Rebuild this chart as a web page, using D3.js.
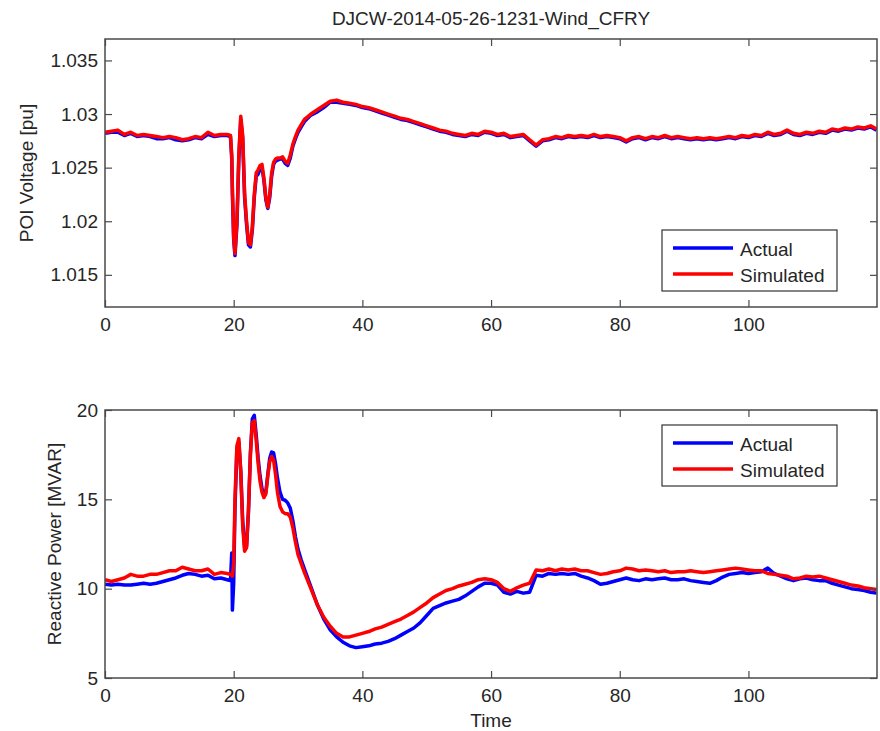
<!DOCTYPE html>
<html>
<head>
<meta charset="utf-8">
<script src="https://cdn.jsdelivr.net/npm/d3@7"></script>
<style>
  body { margin: 0; background: #fff; }
  text { font-family: Arial, "Liberation Sans", sans-serif; }
</style>
</head>
<body>
<div id="chart"></div>
<script>
/* DATA */
// sample times (s), shared by every series
const time = [
  0, 1, 2, 3, 4, 5, 6, 7, 8, 9,
  10, 11, 12, 13, 14, 15, 16, 17, 18, 19,
  19.5, 19.7, 19.8, 20.0, 20.2, 20.5, 20.8, 21.1, 21.4, 21.7,
  22.0, 22.3, 22.6, 22.9, 23.2, 23.5, 23.8, 24.1, 24.4, 24.7,
  25.0, 25.3, 25.6, 25.9, 26.2, 26.5, 26.8, 27.2, 27.6, 28.0,
  28.4, 28.8, 29.2, 29.6, 30.0, 30.5, 31, 32, 33, 34,
  35, 36, 37, 38, 39, 40, 41, 42, 43, 44,
  45, 46, 47, 48, 49, 50, 51, 52, 53, 54,
  55, 56, 57, 58, 59, 60, 61, 62, 63, 64,
  65, 66, 67, 68, 69, 70, 71, 72, 73, 74,
  75, 76, 77, 78, 79, 80, 81, 82, 83, 84,
  85, 86, 87, 88, 89, 90, 91, 92, 93, 94,
  95, 96, 97, 98, 99, 100, 101, 102, 103, 104,
  105, 106, 107, 108, 109, 110, 111, 112, 113, 114,
  115, 116, 117, 118, 119, 119.9
];

// POI voltage [pu]
const voltActual = [
  1.0282, 1.0283, 1.0283, 1.0280, 1.0282, 1.0279, 1.0280, 1.0279, 1.0277, 1.0277,
  1.0278, 1.0276, 1.0275, 1.0276, 1.0278, 1.0277, 1.0281, 1.0279, 1.0280, 1.0280,
  1.0279, 1.0258, 1.0226, 1.0183, 1.0168, 1.0196, 1.0258, 1.0295, 1.0277, 1.0222,
  1.0197, 1.0178, 1.0176, 1.0192, 1.0222, 1.0242, 1.0244, 1.0249, 1.0250, 1.0238,
  1.0220, 1.0212, 1.0222, 1.0242, 1.0253, 1.0256, 1.0257, 1.0258, 1.0258, 1.0254,
  1.0252, 1.0259, 1.0270, 1.0277, 1.0283, 1.0288, 1.0293, 1.0299, 1.0302, 1.0306,
  1.0311, 1.0311, 1.0310, 1.0309, 1.0308, 1.0306, 1.0305, 1.0303, 1.0301, 1.0299,
  1.0297, 1.0295, 1.0294, 1.0292, 1.0290, 1.0288, 1.0286, 1.0284, 1.0283, 1.0281,
  1.0280, 1.0279, 1.0281, 1.0280, 1.0283, 1.0282, 1.0280, 1.0281, 1.0278, 1.0279,
  1.0280, 1.0275, 1.0270, 1.0275, 1.0276, 1.0278, 1.0277, 1.0279, 1.0278, 1.0279,
  1.0278, 1.0280, 1.0278, 1.0279, 1.0278, 1.0277, 1.0274, 1.0277, 1.0278, 1.0276,
  1.0278, 1.0277, 1.0279, 1.0277, 1.0278, 1.0277, 1.0276, 1.0277, 1.0276, 1.0277,
  1.0276, 1.0277, 1.0278, 1.0277, 1.0279, 1.0278, 1.0280, 1.0279, 1.0282, 1.0280,
  1.0281, 1.0284, 1.0281, 1.0280, 1.0282, 1.0281, 1.0283, 1.0282, 1.0285, 1.0284,
  1.0286, 1.0285, 1.0287, 1.0286, 1.0288, 1.0285
];
const voltSim = [
  1.0283, 1.0284, 1.0285, 1.0281, 1.0283, 1.0280, 1.0281, 1.0280, 1.0279, 1.0278,
  1.0279, 1.0278, 1.0276, 1.0277, 1.0279, 1.0278, 1.0283, 1.0280, 1.0281, 1.0281,
  1.0280, 1.0262, 1.0230, 1.0185, 1.0170, 1.0200, 1.0262, 1.0298, 1.0280, 1.0225,
  1.0200, 1.0180, 1.0178, 1.0195, 1.0225, 1.0245, 1.0248, 1.0252, 1.0253, 1.0240,
  1.0222, 1.0213, 1.0225, 1.0245, 1.0255, 1.0258, 1.0259, 1.0259, 1.0260, 1.0256,
  1.0254, 1.0262, 1.0272, 1.0279, 1.0285, 1.0290, 1.0295, 1.0300, 1.0304, 1.0308,
  1.0312, 1.0313, 1.0311, 1.0310, 1.0309, 1.0307, 1.0306, 1.0304, 1.0302, 1.0300,
  1.0298, 1.0296, 1.0295, 1.0293, 1.0291, 1.0289, 1.0287, 1.0285, 1.0284, 1.0282,
  1.0281, 1.0280, 1.0282, 1.0281, 1.0284, 1.0283, 1.0281, 1.0282, 1.0279, 1.0280,
  1.0281, 1.0276, 1.0271, 1.0276, 1.0277, 1.0279, 1.0278, 1.0280, 1.0279, 1.0280,
  1.0279, 1.0281, 1.0279, 1.0280, 1.0279, 1.0278, 1.0275, 1.0278, 1.0279, 1.0277,
  1.0279, 1.0278, 1.0280, 1.0278, 1.0279, 1.0278, 1.0277, 1.0278, 1.0277, 1.0278,
  1.0277, 1.0278, 1.0279, 1.0278, 1.0280, 1.0279, 1.0281, 1.0280, 1.0283, 1.0281,
  1.0282, 1.0285, 1.0282, 1.0281, 1.0283, 1.0282, 1.0284, 1.0283, 1.0286, 1.0285,
  1.0287, 1.0286, 1.0288, 1.0287, 1.0289, 1.0286
];

// Reactive power [MVAR]
const qActual = [
  10.25, 10.2, 10.25, 10.2, 10.2, 10.25, 10.3, 10.25, 10.3, 10.4,
  10.5, 10.6, 10.75, 10.85, 10.8, 10.7, 10.75, 10.55, 10.6, 10.5,
  10.45, 12.0, 8.8, 10.3, 14.5, 17.8, 18.2, 16.6, 13.8, 12.3,
  12.4, 14.3, 17.6, 19.5, 19.7, 18.6, 17.3, 16.3, 15.6, 15.3,
  15.4, 16.4, 17.3, 17.65, 17.6, 17.0, 16.2, 15.4, 15.0, 14.95,
  14.8, 14.5, 13.8, 12.9, 12.2, 11.6, 11.1, 10.1, 9.1, 8.3,
  7.7, 7.3, 7.0, 6.8, 6.7, 6.75, 6.8, 6.9, 6.95, 7.05,
  7.2, 7.4, 7.6, 7.8, 8.1, 8.5, 8.9, 9.05, 9.2, 9.3,
  9.4, 9.6, 9.85, 10.1, 10.3, 10.3, 10.2, 9.8, 9.7, 9.85,
  9.75, 9.8, 10.75, 10.7, 10.85, 10.8, 10.85, 10.8, 10.85, 10.7,
  10.6, 10.45, 10.25, 10.3, 10.4, 10.5, 10.6, 10.5, 10.45, 10.55,
  10.5, 10.55, 10.6, 10.5, 10.5, 10.55, 10.45, 10.4, 10.35, 10.3,
  10.45, 10.65, 10.8, 10.85, 10.9, 10.85, 10.9, 10.95, 11.15, 10.85,
  10.7, 10.55, 10.45, 10.55, 10.6, 10.5, 10.45, 10.45, 10.3, 10.2,
  10.1, 10.0, 9.95, 9.9, 9.8, 9.75
];
const qSim = [
  10.5, 10.4, 10.5, 10.6, 10.8, 10.7, 10.7, 10.8, 10.8, 10.9,
  11.0, 11.0, 11.2, 11.1, 11.0, 11.0, 11.1, 10.8, 10.9, 10.85,
  10.8, 10.75, 10.7, 11.4, 15.0, 18.0, 18.4, 16.5, 13.5, 12.1,
  12.3, 14.5, 17.5, 19.3, 19.4, 18.3, 17.0, 16.0, 15.4, 15.1,
  15.3, 16.3, 17.1, 17.4, 17.2, 16.4, 15.4, 14.6, 14.3, 14.2,
  14.2, 14.0, 13.4, 12.6, 11.9, 11.4, 10.9, 10.0, 9.1, 8.4,
  7.9, 7.5, 7.3, 7.3, 7.4, 7.5, 7.6, 7.75, 7.85, 8.0,
  8.15, 8.3, 8.5, 8.7, 8.95, 9.2, 9.5, 9.7, 9.9, 10.0,
  10.15, 10.25, 10.35, 10.5, 10.55, 10.5, 10.35, 10.0, 9.85, 10.05,
  10.2, 10.3, 11.05, 11.0, 11.1, 11.0, 11.1, 11.05, 11.1, 11.0,
  11.0, 10.9, 10.8, 10.85, 10.95, 11.0, 11.15, 11.1, 11.0, 11.05,
  11.0, 10.95, 11.0, 10.9, 10.95, 10.95, 11.0, 10.95, 10.9, 10.95,
  11.0, 11.05, 11.1, 11.15, 11.1, 11.05, 11.0, 11.0, 10.85, 10.8,
  10.75, 10.7, 10.55, 10.6, 10.7, 10.65, 10.7, 10.6, 10.5, 10.4,
  10.3, 10.2, 10.15, 10.05, 10.0, 9.95
];

// tick values
const timeTicks = [0, 20, 40, 60, 80, 100];
const voltTicks = [1.015, 1.02, 1.025, 1.03, 1.035];
const qTicks = [5, 10, 15, 20];
const seriesNames = ["Actual", "Simulated"];
const seriesColors = ["#0000ff", "#ff0000"];

/* LAYOUT */
const width = 880, height = 731;
const left = 105, right = 877;
const axisColor = "#4a4a4a", textColor = "#262626";
const fontSize = 19;

const panels = [
  { top: 39, bottom: 307, domain: [1.012, 1.037], ticks: voltTicks,
    series: [voltActual, voltSim], label: "POI Voltage [pu]", labelX: 33, legendTop: 230 },
  { top: 410, bottom: 678, domain: [5, 20], ticks: qTicks,
    series: [qActual, qSim], label: "Reactive Power [MVAR]", labelX: 61, legendTop: 425 }
];

const svg = d3.select("#chart")
  .append("svg")
  .attr("width", width)
  .attr("height", height);

svg.append("rect").attr("width", width).attr("height", height).attr("fill", "#fff");

const xScale = d3.scaleLinear()
  .domain([0, 119.98])
  .range([left, right]);

// title
svg.append("text")
  .attr("x", (left + right) / 2)
  .attr("y", 25)
  .attr("text-anchor", "middle")
  .attr("font-size", fontSize)
  .attr("fill", textColor)
  .text("DJCW-2014-05-26-1231-Wind_CFRY");

panels.forEach((p, i) => {
  const yScale = d3.scaleLinear()
    .domain(p.domain)
    .range([p.bottom, p.top]);

  const g = svg.append("g");

  g.append("clipPath")
    .attr("id", "clip" + i)
    .append("rect")
    .attr("x", left).attr("y", p.top)
    .attr("width", right - left).attr("height", p.bottom - p.top);

  const line = d3.line()
    .x((d, j) => xScale(time[j]))
    .y(d => yScale(d));

  // actual first, simulated on top
  p.series.forEach((values, k) => {
    g.append("path")
      .datum(values)
      .attr("clip-path", `url(#clip${i})`)
      .attr("fill", "none")
      .attr("stroke", seriesColors[k])
      .attr("stroke-width", 3.5)
      .attr("stroke-linejoin", "round")
      .attr("d", line);
  });

  // axes, ticks pointing inwards on all four sides
  const styleAxis = sel => {
    sel.select(".domain").remove();
    sel.selectAll(".tick line").attr("stroke", axisColor).attr("stroke-width", 1.2);
    sel.selectAll(".tick text")
      .attr("font-size", fontSize)
      .attr("fill", textColor)
      .style("font-family", "Arial, 'Liberation Sans', sans-serif");
  };

  g.append("g")
    .attr("transform", `translate(0,${p.bottom})`)
    .call(d3.axisBottom(xScale).tickValues(timeTicks).tickSize(-7).tickPadding(10.5))
    .call(styleAxis);

  g.append("g")
    .attr("transform", `translate(0,${p.top})`)
    .call(d3.axisTop(xScale).tickValues(timeTicks).tickSize(-7).tickFormat(""))
    .call(styleAxis);

  g.append("g")
    .attr("transform", `translate(${left},0)`)
    .call(d3.axisLeft(yScale).tickValues(p.ticks).tickSize(-7).tickPadding(7).tickFormat(d => String(d)))
    .call(styleAxis);

  g.append("g")
    .attr("transform", `translate(${right},0)`)
    .call(d3.axisRight(yScale).tickValues(p.ticks).tickSize(-7).tickFormat(""))
    .call(styleAxis);

  // frame
  g.append("rect")
    .attr("x", left).attr("y", p.top)
    .attr("width", right - left).attr("height", p.bottom - p.top)
    .attr("fill", "none")
    .attr("stroke", axisColor)
    .attr("stroke-width", 1.5);

  // y label
  g.append("text")
    .attr("transform", `translate(${p.labelX},${(p.top + p.bottom) / 2}) rotate(-90)`)
    .attr("text-anchor", "middle")
    .attr("font-size", fontSize)
    .attr("fill", textColor)
    .text(p.label);

  // legend
  const lg = g.append("g").attr("transform", `translate(662,${p.legendTop})`);
  lg.append("rect")
    .attr("width", 175).attr("height", 61)
    .attr("fill", "#fff")
    .attr("stroke", "#333")
    .attr("stroke-width", 1.2);
  seriesNames.forEach((name, k) => {
    const yy = 18 + k * 26;
    lg.append("line")
      .attr("x1", 11).attr("x2", 71)
      .attr("y1", yy).attr("y2", yy)
      .attr("stroke", seriesColors[k])
      .attr("stroke-width", 3.5);
    lg.append("text")
      .attr("x", 78).attr("y", yy + 8)
      .attr("font-size", fontSize)
      .attr("fill", textColor)
      .text(name);
  });
});

// x label
svg.append("text")
  .attr("x", (left + right) / 2)
  .attr("y", 727)
  .attr("text-anchor", "middle")
  .attr("font-size", fontSize)
  .attr("fill", textColor)
  .text("Time");
</script>
</body>
</html>
